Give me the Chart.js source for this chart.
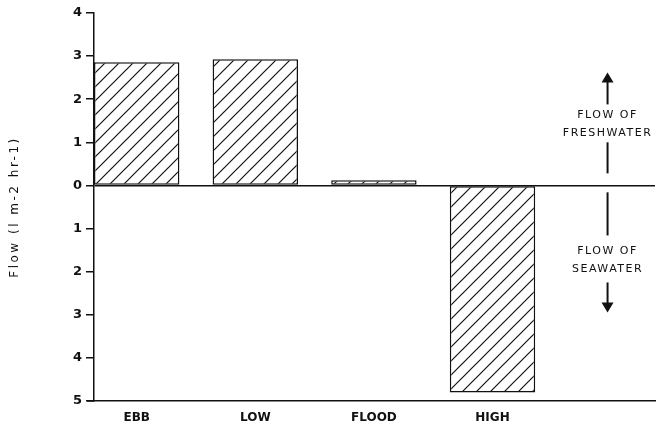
<!DOCTYPE html>
<html>
<head>
<meta charset="utf-8">
<script src="https://cdn.jsdelivr.net/npm/chart.js@4"></script>
<style>
  html, body { margin: 0; padding: 0; background: #fff; }
  #wrap { width: 658px; height: 428px; }
</style>
</head>
<body>
<div id="wrap"><canvas id="flowChart" width="658" height="428"></canvas></div>
<script>
// Tidal stages and measured flow (positive = freshwater out, negative = seawater in)
const stages = ["EBB", "LOW", "FLOOD", "HIGH"];
const flow = [2.86, 2.93, 0.12, -4.8];
const yTicks = [4, 3, 2, 1, 0, -1, -2, -3, -4, -5];
const yTitle = "Flow (l m-2 hr-1)";

// Diagonal hatch like the plotter drawing
function hatch() {
  const c = document.createElement("canvas");
  c.width = 14; c.height = 14;
  const g = c.getContext("2d");
  g.fillStyle = "#fff";
  g.fillRect(0, 0, 14, 14);
  g.strokeStyle = "#111";
  g.lineWidth = 1.2;
  g.beginPath();
  g.moveTo(0, 14); g.lineTo(14, 0);
  g.moveTo(-7, 7); g.lineTo(7, -7);
  g.moveTo(7, 21); g.lineTo(21, 7);
  g.stroke();
  return g.createPattern(c, "repeat");
}

// Arrows + "FLOW OF ..." notes on the right side, and the spaced-out y title
const notes = {
  id: "notes",
  afterDraw(chart) {
    const { ctx, chartArea, scales: { x, y } } = chart;
    const px = x.getPixelForValue(3.97);
    ctx.save();
    ctx.strokeStyle = "#111";
    ctx.fillStyle = "#111";
    ctx.lineWidth = 2;

    const seg = (a, b) => {
      ctx.beginPath();
      ctx.moveTo(px, y.getPixelForValue(a));
      ctx.lineTo(px, y.getPixelForValue(b));
      ctx.stroke();
    };
    const head = (tip, dir) => {
      const t = y.getPixelForValue(tip);
      ctx.beginPath();
      ctx.moveTo(px, t);
      ctx.lineTo(px - 6, t + dir * 10);
      ctx.lineTo(px + 6, t + dir * 10);
      ctx.closePath();
      ctx.fill();
    };

    // freshwater (up)
    head(2.62, 1);
    seg(2.45, 1.88);
    seg(1.0, 0.28);
    // seawater (down)
    seg(-0.16, -1.16);
    seg(-2.25, -2.75);
    head(-2.95, -1);

    ctx.font = "11px 'DejaVu Sans'";
    ctx.letterSpacing = "1.5px";
    ctx.textAlign = "center";
    ctx.textBaseline = "middle";
    ctx.fillText("FLOW OF", px, y.getPixelForValue(1.62));
    ctx.fillText("FRESHWATER", px, y.getPixelForValue(1.21));
    ctx.fillText("FLOW OF", px, y.getPixelForValue(-1.53));
    ctx.fillText("SEAWATER", px, y.getPixelForValue(-1.95));

    // y axis title
    ctx.font = "12px 'DejaVu Sans'";
    ctx.letterSpacing = "2.5px";
    ctx.translate(15, y.getPixelForValue(-0.5));
    ctx.rotate(-Math.PI / 2);
    ctx.fillText(yTitle, 0, 0);
    ctx.restore();

    // bottom axis reaches a little left of the y axis
    ctx.save();
    ctx.strokeStyle = "#111";
    ctx.lineWidth = 1.5;
    ctx.beginPath();
    ctx.moveTo(chartArea.left - 7, chartArea.bottom);
    ctx.lineTo(chartArea.left, chartArea.bottom);
    ctx.stroke();
    ctx.restore();
  }
};

new Chart(document.getElementById("flowChart"), {
  type: "bar",
  data: {
    datasets: [{
      data: stages.map((s, i) => ({ x: i, y: flow[i] })),
      backgroundColor: hatch(),
      borderColor: "#111",
      borderWidth: 1.5,
      borderSkipped: false,
      barPercentage: 0.72,
      categoryPercentage: 1
    }]
  },
  options: {
    responsive: false,
    animation: false,
    layout: { padding: { top: 13, right: 3, left: 0, bottom: 0 } },
    plugins: { legend: { display: false }, tooltip: { enabled: false } },
    scales: {
      x: {
        type: "linear",
        min: -0.36,
        max: 4.37,
        offset: false,
        afterBuildTicks: s => { s.ticks = stages.map((c, i) => ({ value: i })); },
        afterFit: s => { s.height = 27; },
        ticks: {
          callback: v => stages[v] || "",
          color: "#111",
          font: { family: "DejaVu Sans", size: 12, weight: "bold" },
          padding: 2,
          maxRotation: 0
        },
        grid: { display: false },
        border: { display: true, color: "#111", width: 1.5 }
      },
      y: {
        min: -5,
        max: 4,
        afterBuildTicks: s => { s.ticks = yTicks.map(v => ({ value: v })); },
        afterFit: s => { s.width = 94; },
        ticks: {
          callback: v => Math.abs(v),
          color: "#111",
          font: { family: "DejaVu Sans", size: 13, weight: "bold" },
          padding: 4
        },
        grid: {
          color: c => (c.tick && c.tick.value === 0 ? "#111" : "rgba(0,0,0,0)"),
          tickColor: "#111",
          tickLength: 8,
          lineWidth: 1.5
        },
        border: { display: true, color: "#111", width: 1.5 }
      }
    }
  },
  plugins: [notes]
});
</script>
</body>
</html>
